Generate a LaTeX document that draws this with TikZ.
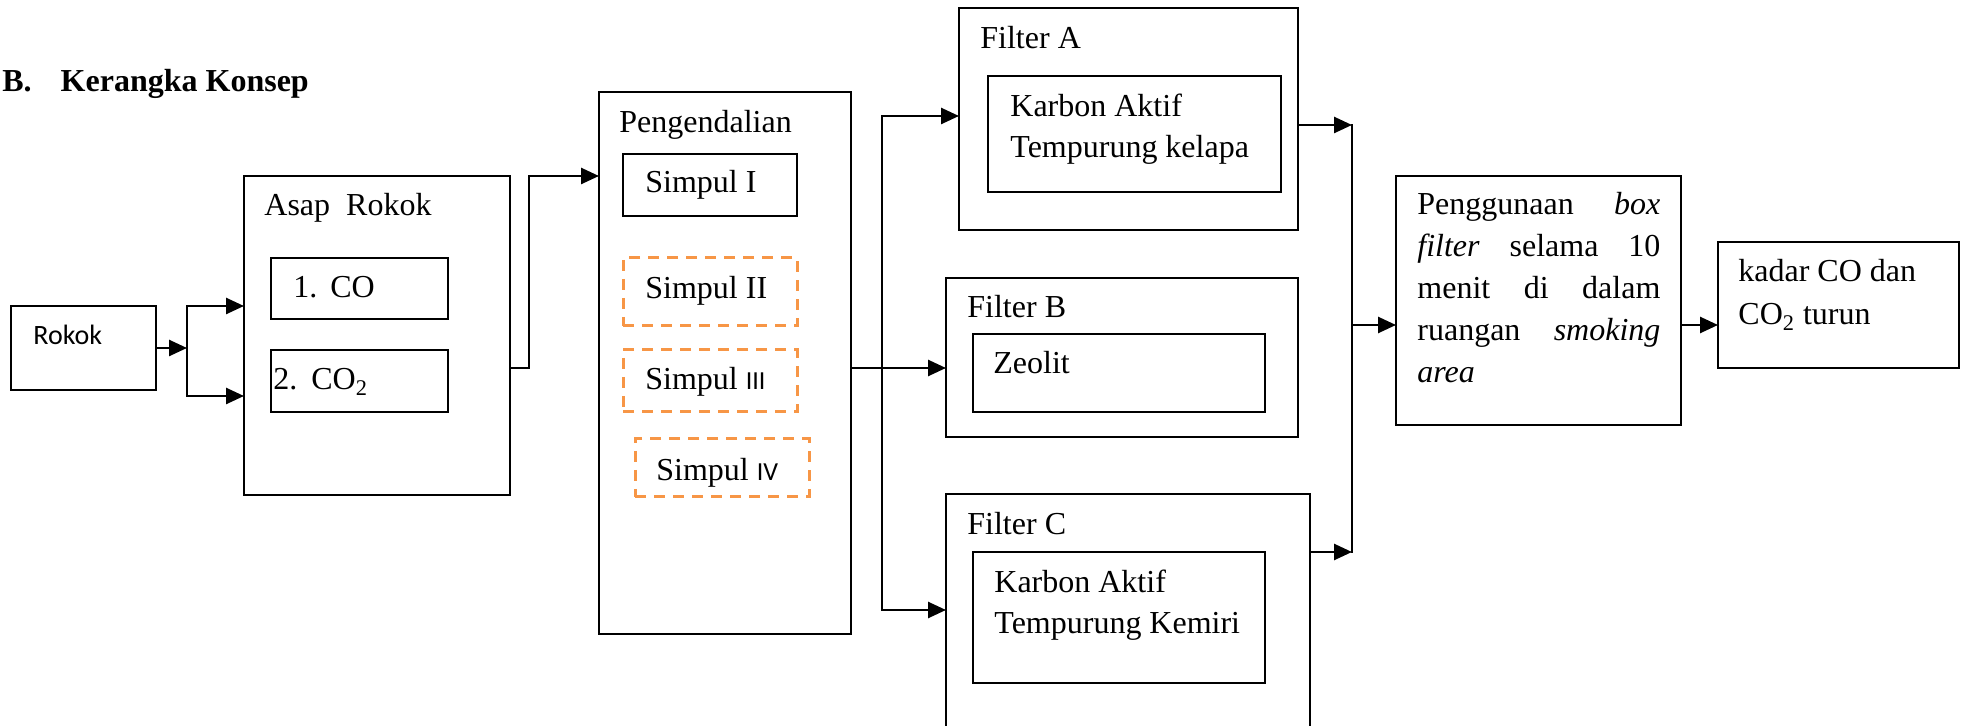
\documentclass[tikz,border=0pt]{standalone}
\usepackage{fontspec}
\setmainfont{Liberation Serif}
\newfontfamily\calibri{Carlito}
\usetikzlibrary{arrows.meta}
\definecolor{oranye}{HTML}{F79646}
\tikzset{
  kotak/.style={draw, line width=1.3pt, inner sep=0pt, outer sep=0pt, anchor=north west},
  simpul/.style={kotak, draw=oranye, line width=1.5pt, dash pattern=on 5.5pt off 4pt},
  teks/.style={anchor=base west, inner sep=0pt, font=\fontsize{16}{20}\selectfont},
  garis/.style={line width=1.3pt, line cap=rect},
  panah/.style={line width=1.3pt, -{Triangle[length=9pt,width=8pt]}}
}
% [style] name x1 y1 x2 y2
\newcommand\kotak[6][]{\node[kotak,#1,minimum width={(#5-#3)*0.5pt},minimum height={(#6-#4)*0.5pt}] (#2) at (#3,#4) {};}
\begin{document}
\begin{tikzpicture}[x=0.5pt,y=-0.5pt]
\useasboundingbox (0,0) rectangle (1966,726);
\clip (0,0) rectangle (1966,726);
\node[teks,font=\fontsize{16}{20}\selectfont\bfseries] (judul) at (2,92) {B.\hspace{14.5pt}Kerangka Konsep};
% kotak
\kotak{rokok}{11}{306}{156}{390}
\kotak{asap}{244}{176}{510}{495}
\kotak{co}{271}{258}{448}{319}
\kotak{coo}{271}{350}{448}{412}
\kotak{peng}{599}{92}{851}{634}
\kotak{s1}{623}{154}{797}{216}
\foreach \nama/\xa/\ya/\xb/\yb in {s2/623/258/797/326,s3/623/350/797/412,s4/635/439/809/497}
  {\kotak[simpul]{\nama}{\xa}{\ya}{\xb}{\yb}}
\kotak{fa}{959}{8}{1298}{230}
\kotak{fai}{988}{76}{1281}{192}
\kotak{fb}{946}{278}{1298}{437}
\kotak{fbi}{973}{334}{1265}{412}
\kotak{fc}{946}{494}{1310}{760}
\kotak{fci}{973}{552}{1265}{683}
\kotak{bf}{1396}{176}{1681}{425}
\kotak{hasil}{1718}{242}{1959}{368}
% teks
\node[teks] (trokok) at (33,345) {\calibri\fontsize{14}{16}\selectfont Rokok};
\node[teks] (tasap) at (264,216) {Asap\ \ Rokok};
\node[teks] (tco) at (293,298) {1.\hspace{6.5pt}CO};
\node[teks] (tcoo) at (273,390) {2.\hspace{7pt}CO\textsubscript{2}};
\node[teks] (tpeng) at (619,133) {Pengendalian};
\node[teks] (ts1) at (645,193) {Simpul I};
\node[teks] (ts2) at (645,299) {Simpul II};
\node[teks] (ts3) at (645,390) {Simpul {\calibri\fontsize{13}{15}\selectfont III}};
\node[teks] (ts4) at (656,481) {Simpul {\calibri\fontsize{13}{15}\selectfont IV}};
\node[teks] (tfa) at (980,49) {Filter A};
\node[teks] (tfa1) at (1010,117) {Karbon Aktif};
\node[teks] (tfa2) at (1010,158) {Tempurung kelapa};
\node[teks] (tfb) at (967,318) {Filter B};
\node[teks] (tfb1) at (993,374) {Zeolit};
\node[teks] (tfc) at (967,535) {Filter C};
\node[teks] (tfc1) at (994,593) {Karbon Aktif};
\node[teks] (tfc2) at (994,634) {Tempurung Kemiri};
\foreach \baris [count=\i] in {{Penggunaan\hfill\textit{box}},{\textit{filter}\hfill selama\hfill 10},{menit\hfill di\hfill dalam},{ruangan\hfill\textit{smoking}}}
  \node[teks] (tbf\i) at (1417,173+42*\i) {\makebox[121.5pt]{\baris}};
\node[teks] (tbf5) at (1417,383) {\textit{area}};
\node[teks] (th1) at (1738,282) {kadar CO dan};
\node[teks] (th2) at (1738,325) {CO\textsubscript{2} turun};
% panah
\coordinate (j1) at (187,348);
\coordinate (j1a) at (187,306);
\coordinate (j1b) at (187,396);
\draw[panah] (rokok.east) -- (j1);
\draw[garis] (j1a) -- (j1b);
\draw[panah] (j1a) -- (j1a -| asap.west);
\draw[panah] (j1b) -- (j1b -| asap.west);
\coordinate (j2) at (529,368);
\draw[panah] (j2 -| asap.east) -- (j2) |- (asap.north -| peng.west);
\coordinate (j3) at (882,368);
\coordinate (j3a) at (882,116);
\coordinate (j3b) at (882,610);
\draw[panah] (j3 -| peng.east) -- (j3 -| fb.west);
\draw[garis] (j3a) -- (j3b);
\draw[panah] (j3a) -- (j3a -| fa.west);
\draw[panah] (j3b) -- (j3b -| fc.west);
\coordinate (j4) at (1352,325);
\coordinate (j4a) at (1352,125);
\coordinate (j4b) at (1352,552);
\draw[panah] (j4a -| fa.east) -- (j4a);
\draw[panah] (j4b -| fc.east) -- (j4b);
\draw[garis] (j4a) -- (j4b);
\draw[panah] (j4) -- (j4 -| bf.west);
\draw[panah] (j4 -| bf.east) -- (j4 -| hasil.west);
\end{tikzpicture}
\end{document}
